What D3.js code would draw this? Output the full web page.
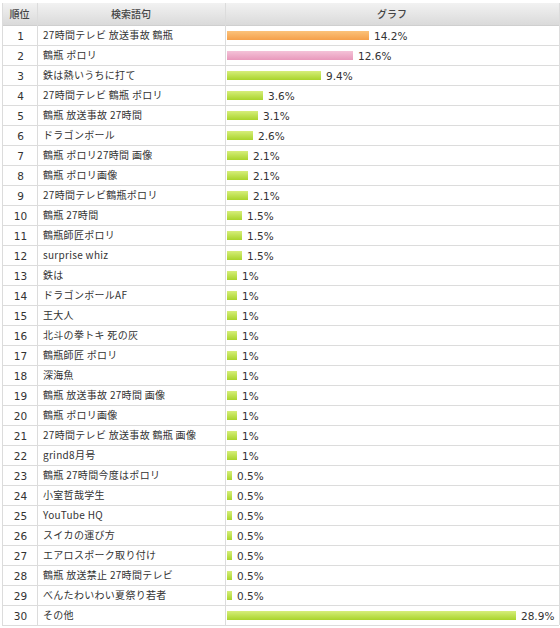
<!DOCTYPE html>
<html><head><meta charset="utf-8">
<script src="https://cdn.jsdelivr.net/npm/d3@7"></script>
<style>
body{margin:0;background:#fff;}
text{font-family:"Noto Sans CJK JP","Noto Sans",sans-serif;}
text.num{font-family:"DejaVu Sans","Noto Sans",sans-serif;}
</style></head><body>
<svg id="c" width="560" height="628"></svg>
<script>
const headers = ["順位","検索語句","グラフ"];
const ranks = d3.range(1,31);
const terms = ["27時間テレビ 放送事故 鶴瓶","鶴瓶 ポロリ","鉄は熱いうちに打て","27時間テレビ 鶴瓶 ポロリ","鶴瓶 放送事故 27時間","ドラゴンボール","鶴瓶 ポロリ27時間 画像","鶴瓶 ポロリ画像","27時間テレビ鶴瓶ポロリ","鶴瓶 27時間","鶴瓶師匠ポロリ","surprise whiz","鉄は","ドラゴンボールAF","王大人","北斗の拳トキ 死の灰","鶴瓶師匠 ポロリ","深海魚","鶴瓶 放送事故 27時間 画像","鶴瓶 ポロリ画像","27時間テレビ 放送事故 鶴瓶 画像","grind8月号","鶴瓶 27時間今度はポロリ","小室哲哉学生","YouTube HQ","スイカの運び方","エアロスポーク取り付け","鶴瓶 放送禁止 27時間テレビ","べんたわいわい夏祭り若者","その他"];
const values = [14.2,12.6,9.4,3.6,3.1,2.6,2.1,2.1,2.1,1.5,1.5,1.5,1,1,1,1,1,1,1,1,1,1,0.5,0.5,0.5,0.5,0.5,0.5,0.5,28.9];
const labels = ["14.2%","12.6%","9.4%","3.6%","3.1%","2.6%","2.1%","2.1%","2.1%","1.5%","1.5%","1.5%","1%","1%","1%","1%","1%","1%","1%","1%","1%","1%","0.5%","0.5%","0.5%","0.5%","0.5%","0.5%","0.5%","28.9%"];

const svg = d3.select("#c");
const defs = svg.append("defs");
function grad(id, c1, c2){
  const g = defs.append("linearGradient").attr("id",id).attr("x1",0).attr("x2",0).attr("y1",0).attr("y2",1);
  g.append("stop").attr("offset","0%").attr("stop-color",c1);
  g.append("stop").attr("offset","100%").attr("stop-color",c2);
}
grad("gOrange","#fbc27a","#f5a04a");
grad("gPink","#f4c2d8","#e899bb");
grad("gGreen","#d6ee7a","#a9d42c");
grad("gHead","#f2f2f2","#dadada");

const L = 2, R = 559, T = 3, headH = 22;
const y = d3.scaleBand().domain(ranks).range([T+headH, T+headH+20*ranks.length]);
const x = d3.scaleLinear().domain([0,28.9]).range([227,516]);
const col1 = 37, col2 = 225;
const bottom = y(30)+y.bandwidth();

// header
svg.append("rect").attr("x",L).attr("y",T).attr("width",R-L).attr("height",headH).attr("fill","url(#gHead)");
const hx = [(L+col1)/2, (col1+col2)/2, (col2+R)/2];
svg.selectAll("text.h").data(headers).join("text").attr("class","h")
  .attr("x",(d,i)=>hx[i]).attr("y",T+headH/2+4).attr("text-anchor","middle")
  .attr("font-size",10).attr("font-weight",500).attr("fill","#444").text(d=>d);

// row lines
svg.selectAll("line.r").data(ranks).join("line").attr("class","r")
  .attr("x1",L).attr("x2",R)
  .attr("y1",d=>y(d)+y.bandwidth()+0.5).attr("y2",d=>y(d)+y.bandwidth()+0.5)
  .attr("stroke","#dcdcdc");
svg.append("line").attr("x1",L).attr("x2",R).attr("y1",T+headH+0.5).attr("y2",T+headH+0.5).attr("stroke","#cfcfcf");
// column lines
[L,col1,col2,R].forEach(cx=>{
  svg.append("line").attr("x1",cx+0.5).attr("x2",cx+0.5).attr("y1",T).attr("y2",bottom).attr("stroke","#dcdcdc");
});

const rows = svg.selectAll("g.row").data(ranks).join("g").attr("class","row")
  .attr("transform",d=>`translate(0,${y(d)})`);
rows.append("text").attr("class","num").attr("x",(L+col1)/2+1).attr("y",14.5).attr("text-anchor","middle")
  .attr("font-size",10.5).attr("fill","#333").text(d=>d);
rows.append("text").attr("x",col1+6).attr("y",14)
  .attr("font-size",10).attr("letter-spacing",0.3).attr("fill","#333").text((d,i)=>terms[i]);
rows.append("rect").attr("x",x(0)).attr("y",6).attr("height",9)
  .attr("width",(d,i)=>x(values[i])-x(0))
  .attr("fill",(d,i)=> i===0?"url(#gOrange)": i===1?"url(#gPink)":"url(#gGreen)");
rows.append("text").attr("class","num").attr("x",(d,i)=>x(values[i])+5).attr("y",14.5)
  .attr("font-size",10.5).attr("fill","#333").text((d,i)=>labels[i]);
</script></body></html>
